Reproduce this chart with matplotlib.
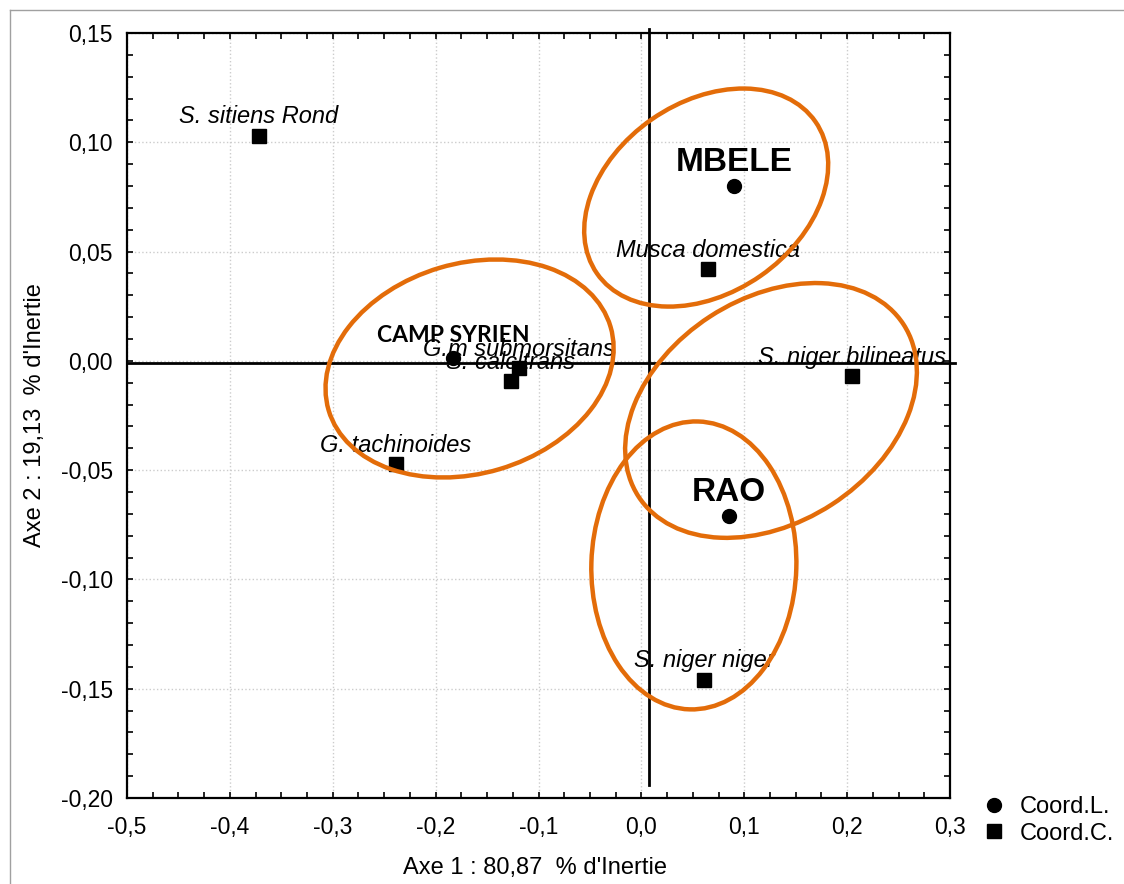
import matplotlib.pyplot as plt
from matplotlib.patches import Ellipse
from matplotlib.lines import Line2D
import matplotlib.transforms as mtransforms
from matplotlib.ticker import MultipleLocator, FuncFormatter

plt.rcParams['font.family'] = ['Liberation Sans', 'DejaVu Sans']

# coordonnees lignes (sites)
sites = ['MBELE', 'CAMP SYRIEN', 'RAO']
sites_x = [0.090, -0.183, 0.085]
sites_y = [0.080, 0.0014, -0.071]

# coordonnees colonnes (especes)
especes = ['S. sitiens Rond', 'Musca domestica', 'G.m submorsitans', 'S. calcitrans',
           'G. tachinoides', 'S. niger bilineatus', 'S. niger niger']
especes_x = [-0.372, 0.065, -0.119, -0.127, -0.239, 0.205, 0.061]
especes_y = [0.103, 0.042, -0.0035, -0.0093, -0.0474, -0.0070, -0.1458]

# ellipses de regroupement: centre (donnees), demi-axes (pouces), angle
ell_cx = [0.063, -0.167, 0.126, 0.051]
ell_cy = [0.0747, -0.0035, -0.0227, -0.0936]
ell_a = [1.33, 1.47, 1.58, 1.44]
ell_b = [0.953, 1.05, 1.12, 1.025]
ell_ang = [34.8, 16.5, 33.0, 88.3]

orange = '#E36C09'

fig = plt.figure(figsize=(11.24, 8.84), dpi=100)
ax = fig.add_axes([0.113, 0.0973, 0.7322, 0.8654])

ax.set_xlim(-0.5, 0.3)
ax.set_ylim(-0.2, 0.15)
ax.xaxis.set_major_locator(MultipleLocator(0.1))
ax.xaxis.set_minor_locator(MultipleLocator(0.025))
ax.yaxis.set_major_locator(MultipleLocator(0.05))
ax.yaxis.set_minor_locator(MultipleLocator(0.01))
ax.xaxis.set_major_formatter(FuncFormatter(lambda v, p: ('%.1f' % v).replace('.', ',').replace('-0,0', '0,0')))
ax.yaxis.set_major_formatter(FuncFormatter(lambda v, p: ('%.2f' % v).replace('.', ',').replace('-0,00', '0,00')))
ax.tick_params(which='both', direction='in', top=True, right=True, width=1.2, length=4, labelsize=16.5, pad=10)
ax.tick_params(axis='x', which='both', pad=13)
ax.grid(True, which='major', color='#cccccc', linestyle=':', linewidth=1)
ax.set_axisbelow(True)
for s in ax.spines.values():
    s.set_linewidth(1.6)

ax.set_xlabel("Axe 1 : 80,87  % d'Inertie", fontsize=17)
ax.set_ylabel("Axe 2 : 19,13  % d'Inertie", fontsize=17)
ax.xaxis.set_label_coords(0.496, -0.077)
ax.yaxis.set_label_coords(-0.098, 0.5)

# axes centraux
ax.plot([-0.5, 0.305], [-0.001, -0.001], color='black', linewidth=2, clip_on=False, zorder=4)
ax.plot([0.007, 0.007], [0.152, -0.194], color='black', linewidth=2, clip_on=False, zorder=4)

ax.plot(sites_x, sites_y, 'o', color='black', markersize=10, zorder=5, label='Coord.L.')
ax.plot(especes_x, especes_y, 's', color='black', markersize=10, zorder=5, label='Coord.C.')

for nom, x, y in zip(especes, especes_x, especes_y):
    ax.annotate(nom, (x, y), xytext=(0, 9), textcoords='offset points', ha='center', va='baseline',
                fontsize=17, style='italic', zorder=3)

for nom, x, y in zip(sites, sites_x, sites_y):
    if nom == 'CAMP SYRIEN':
        ax.annotate(nom, (x, y), xytext=(0, 11), textcoords='offset points', ha='center', va='baseline',
                    fontsize=16.5, fontweight='bold', family='Lato', zorder=3)
    else:
        ax.annotate(nom, (x, y), xytext=(0, 11), textcoords='offset points', ha='center', va='baseline',
                    fontsize=24, fontweight='bold', zorder=3)

for cx, cy, a, b, ang in zip(ell_cx, ell_cy, ell_a, ell_b, ell_ang):
    tr = fig.dpi_scale_trans + mtransforms.ScaledTranslation(cx, cy, ax.transData)
    e = Ellipse((0, 0), 2 * a, 2 * b, angle=ang, transform=tr, fill=False,
                edgecolor=orange, linewidth=3.2, zorder=6, clip_on=False)
    ax.add_patch(e)

fig.legend(loc='center left', bbox_to_anchor=(0.853, 0.072), frameon=False, fontsize=17,
           handletextpad=0.5, labelspacing=0.2, handlelength=1.2)

# cadre gris
fig.add_artist(Line2D([10 / 1124, 1], [1 - 10 / 884, 1 - 10 / 884], color='#a0a0a0', linewidth=1))
fig.add_artist(Line2D([10 / 1124, 10 / 1124], [0, 1 - 10 / 884], color='#a0a0a0', linewidth=1))

fig.savefig('out.png', dpi=100)
